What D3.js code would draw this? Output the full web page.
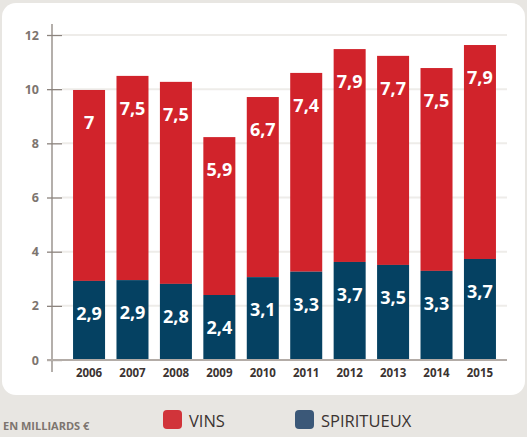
<!DOCTYPE html>
<html>
<head>
<meta charset="utf-8">
<script src="https://cdn.jsdelivr.net/npm/d3@7"></script>
<style>
  body { margin: 0; background: #e8e6e2; }
  svg { display: block; }
</style>
</head>
<body>
<div id="chart"></div>
<script>
const width = 527;
const height = 437;

// values in billions of euros
const years = ['2006', '2007', '2008', '2009', '2010', '2011', '2012', '2013', '2014', '2015'];
const spiritueux = [2.92, 2.95, 2.81, 2.40, 3.06, 3.26, 3.62, 3.51, 3.29, 3.73];
const vins = [7.05, 7.54, 7.46, 5.83, 6.65, 7.34, 7.86, 7.72, 7.49, 7.90];
const spiritLabels = ['2,9', '2,9', '2,8', '2,4', '3,1', '3,3', '3,7', '3,5', '3,3', '3,7'];
const vinsLabels = ['7', '7,5', '7,5', '5,9', '6,7', '7,4', '7,9', '7,7', '7,5', '7,9'];
const yTicks = [0, 2, 4, 6, 8, 10, 12];

const red = '#d1232b';
const navy = '#054162';

const rows = years.map((y, i) => ({
    year: y, spirit: spiritueux[i], vin: vins[i],
    spiritLabel: spiritLabels[i], vinLabel: vinsLabels[i],
}));

const svg = d3.select('#chart')
    .append('svg')
    .attr('width', width)
    .attr('height', height);

svg.append('rect')
    .attr('x', 2)
    .attr('y', 3)
    .attr('width', 523)
    .attr('height', 392)
    .attr('rx', 14)
    .attr('fill', '#ffffff');

const x = d3.scaleBand()
    .domain(years)
    .range([67.4, 501.6])
    .paddingInner(0.263)
    .paddingOuter(0.13);

const y = d3.scaleLinear()
    .domain([0, 12])
    .range([360, 35]);

// gridlines
svg.append('g')
    .selectAll('line')
    .data(yTicks.filter((d) => d > 0))
    .enter()
    .append('line')
    .attr('x1', 62)
    .attr('x2', 507)
    .attr('y1', (d) => y(d))
    .attr('y2', (d) => y(d))
    .attr('stroke', '#eeece9')
    .attr('stroke-width', 2);

// y axis
const yAxis = svg.append('g')
    .attr('class', 'yAxis')
    .attr('transform', 'translate(62,0)')
    .call(d3.axisLeft(y).tickValues(yTicks).tickSize(15).tickPadding(8));

yAxis.select('.domain').remove();
yAxis.selectAll('.tick line')
    .attr('stroke', '#8c847e')
    .attr('stroke-width', 1.3);
yAxis.selectAll('.tick text')
    .style('font-family', 'Open Sans')
    .style('font-weight', 700)
    .style('font-size', '12.5px')
    .attr('fill', '#7d756f');

svg.append('line')
    .attr('x1', 52)
    .attr('x2', 52)
    .attr('y1', 24)
    .attr('y2', 372)
    .attr('stroke', '#8c847e')
    .attr('stroke-width', 1.3);

// bars
const bars = svg.append('g')
    .selectAll('g')
    .data(rows)
    .enter()
    .append('g');

bars.append('rect')
    .attr('x', (d) => x(d.year))
    .attr('width', x.bandwidth())
    .attr('y', (d) => y(d.spirit + d.vin))
    .attr('height', (d) => y(d.spirit) - y(d.spirit + d.vin))
    .attr('fill', red);

bars.append('rect')
    .attr('x', (d) => x(d.year))
    .attr('width', x.bandwidth())
    .attr('y', (d) => y(d.spirit))
    .attr('height', (d) => y(0) - y(d.spirit))
    .attr('fill', navy);

bars.append('text')
    .attr('x', (d) => x(d.year) + x.bandwidth() / 2)
    .attr('y', (d) => y(d.spirit + d.vin) + 39)
    .text((d) => d.vinLabel);

bars.append('text')
    .attr('x', (d) => x(d.year) + x.bandwidth() / 2)
    .attr('y', (d) => y(d.spirit) + 39)
    .text((d) => d.spiritLabel);

bars.selectAll('text')
    .style('font-family', 'Open Sans')
    .style('font-weight', 700)
    .style('font-size', '18px')
    .style('text-anchor', 'middle')
    .attr('fill', '#ffffff');

// baseline
svg.append('line')
    .attr('x1', 47)
    .attr('x2', 507)
    .attr('y1', y(0))
    .attr('y2', y(0))
    .attr('stroke', '#b3aca7')
    .attr('stroke-width', 2);

// x labels
svg.append('g')
    .selectAll('text')
    .data(years)
    .enter()
    .append('text')
    .attr('x', (d) => x(d) + x.bandwidth() / 2)
    .attr('y', 377)
    .text((d) => d)
    .style('font-family', 'Open Sans')
    .style('font-weight', 700)
    .style('font-size', '11.5px')
    .style('text-anchor', 'middle')
    .attr('fill', '#3b3331');

// footer
svg.append('text')
    .attr('x', 3)
    .attr('y', 430)
    .text('EN MILLIARDS €')
    .style('font-family', 'Open Sans')
    .style('font-weight', 700)
    .style('font-size', '11px')
    .attr('fill', '#7d756f');

const legendItems = [
    { label: 'VINS', color: '#d1343a', x: 163 },
    { label: 'SPIRITUEUX', color: '#3b5878', x: 295 },
];

const legend = svg.append('g')
    .selectAll('g')
    .data(legendItems)
    .enter()
    .append('g')
    .attr('transform', (d) => `translate(${d.x},410)`);

legend.append('rect')
    .attr('width', 19)
    .attr('height', 19)
    .attr('rx', 4)
    .attr('fill', (d) => d.color);

legend.append('text')
    .attr('x', 26)
    .attr('y', 17)
    .text((d) => d.label)
    .style('font-family', 'Open Sans')
    .style('font-size', '16.5px')
    .attr('fill', '#3b3331');
</script>
</body>
</html>
